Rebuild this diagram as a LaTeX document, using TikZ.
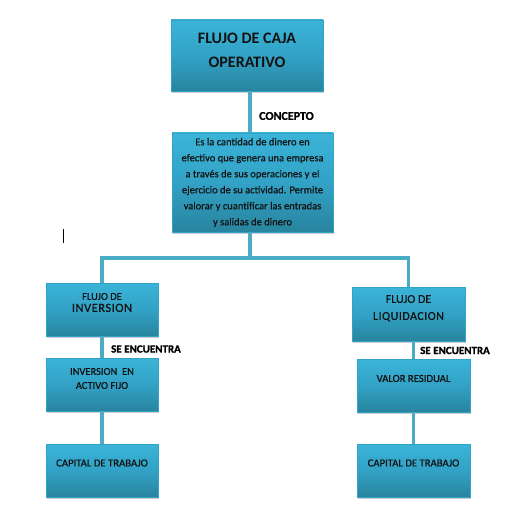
\documentclass[tikz,border=0pt]{standalone}
\usepackage{fontspec}
\setmainfont{Carlito}
\usetikzlibrary{shadows}

\definecolor{boxtop}{RGB}{58,180,216}
\definecolor{boxmid}{RGB}{50,162,198}
\definecolor{boxbot}{RGB}{40,132,158}
\definecolor{linkblue}{RGB}{75,172,198}
\definecolor{ink}{RGB}{18,18,18}

\begin{document}
\begin{tikzpicture}[x=1pt,y=-1pt,
	box/.style={rectangle, draw=boxmid, line width=0.4pt, inner sep=0pt,
		top color=boxtop, bottom color=boxbot, middle color=boxmid,
		drop shadow={shadow xshift=0.6pt, shadow yshift=-2.2pt, opacity=0.4}},
	boxtext/.style={align=center, text=ink, inner sep=0pt},
	link/.style={draw=linkblue, line width=3.5pt},
	tag/.style={anchor=west, inner sep=0pt, text=black,
		font=\bfseries\fontsize{11}{11}\selectfont\addfontfeature{FakeBold=1.2}}]
	
	\useasboundingbox (0,0) rectangle (522,516);
	
	% Title and concept
	\node[box, minimum width=152pt, minimum height=71pt] (caja) at (247,55.5) {};
	\node[boxtext, font=\bfseries\fontsize{16}{24}\selectfont] (cajatxt) at ([yshift=5.5pt]caja.center) {FLUJO DE CAJA\\OPERATIVO};
	
	\node[box, minimum width=161pt, minimum height=99pt] (concepto) at (252.5,182.5) {};
	\node[boxtext, font=\fontsize{10.5}{16}\selectfont\addfontfeature{FakeBold=0.5}] (conceptotxt) at (concepto.center) {Es la cantidad de dinero en\\efectivo que genera una empresa\\a través de sus operaciones y el\\ejercicio de su actividad. Permite\\valorar y cuantificar las entradas\\y salidas de dinero};
	
	% Left branch
	\node[box, minimum width=112pt, minimum height=53pt] (inv) at (102,309.5) {};
	\node[boxtext] (invtxt) at ([yshift=7pt]inv.center) {\fontsize{10.5}{17}\selectfont\addfontfeature{FakeBold=0.6}FLUJO DE\\\fontsize{12.5}{17}\selectfont\addfontfeature{LetterSpace=4,FakeBold=0.6}INVERSION};
	
	\node[box, minimum width=112pt, minimum height=53pt] (activo) at (102,384.5) {};
	\node[boxtext, font=\fontsize{10.5}{14}\selectfont\addfontfeature{FakeBold=0.6}] (activotxt) at ([yshift=6pt]activo.center) {INVERSION\ \ EN\\ACTIVO FIJO};
	
	\node[box, minimum width=112pt, minimum height=53pt] (capinv) at (102,470.5) {};
	\node[boxtext, font=\fontsize{10.7}{14}\selectfont\addfontfeature{FakeBold=0.8}] (capinvtxt) at ([yshift=7.5pt]capinv.center) {CAPITAL DE TRABAJO};
	
	% Right branch
	\node[box, minimum width=113pt, minimum height=54pt] (liq) at (408.5,314) {};
	\node[boxtext, font=\fontsize{12}{17}\selectfont\addfontfeature{FakeBold=0.6}] (liqtxt) at ([yshift=5.7pt]liq.center) {FLUJO DE\\{\addfontfeature{LetterSpace=4}LIQUIDACION}};
	
	\node[box, minimum width=113pt, minimum height=53pt] (valor) at (413.5,385.5) {};
	\node[boxtext, font=\fontsize{10.7}{14}\selectfont\addfontfeature{FakeBold=0.8}] (valortxt) at ([yshift=7pt]valor.center) {VALOR RESIDUAL};
	
	\node[box, minimum width=113pt, minimum height=53pt] (capliq) at (413.5,470.5) {};
	\node[boxtext, font=\fontsize{10.7}{14}\selectfont\addfontfeature{FakeBold=0.8}] (capliqtxt) at ([yshift=7.5pt]capliq.center) {CAPITAL DE TRABAJO};
	
	% Connectors
	\coordinate (eje) at (250,258);
	\draw[link] (caja.south -| eje) -- (concepto.north -| eje);
	\draw[link] (concepto.south -| eje) -- (eje);
	\draw[link] (inv.north) |- (eje) -| (liq.north);
	\draw[link] (inv.south) -- (activo.north);
	\draw[link] (activo.south) -- (capinv.north);
	\draw[link] (valor.north |- liq.south) -- (valor.north);
	\draw[link] (valor.south) -- (capliq.north);
	
	% Labels on the links
	\node[tag, font=\bfseries\fontsize{12}{12}\selectfont\addfontfeature{FakeBold=1.2}] (concep) at (259,116) {CONCEPTO};
	\node[tag] (seinv) at (111,349) {SE ENCUENTRA};
	\node[tag] (seliq) at (420,350.5) {SE ENCUENTRA};
	
	% Stray cursor mark
	\draw[line width=0.7pt] (63,229) -- (63,243);
	
\end{tikzpicture}
\end{document}
